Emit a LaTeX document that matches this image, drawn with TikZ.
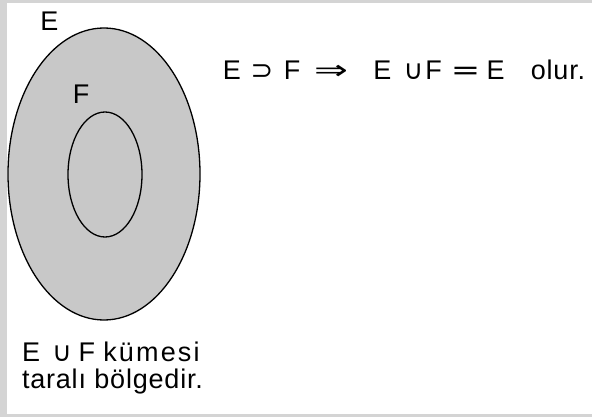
\documentclass[tikz,border=0pt]{standalone}
\usepackage{fontspec}
\usepackage{graphicx}
\setmainfont{Liberation Sans}
\newfontfamily\symf{DejaVu Sans}
\newfontfamily\capf[LetterSpace=3]{Liberation Sans}
\newfontfamily\widef[LetterSpace=8]{Liberation Sans}
\usetikzlibrary{shapes.geometric}
\definecolor{framegray}{RGB}{212,212,212}
\definecolor{shade}{RGB}{200,200,200}
\begin{document}
\begin{tikzpicture}[x=1pt,y=-1pt,
  txt/.style={font=\fontsize{27}{26.5}\selectfont, inner sep=0pt, outer sep=0pt, text=black},
  sym/.style={font=\fontsize{27}{26.5}\selectfont\symf, inner sep=0pt, outer sep=0pt, text=black},
  setline/.style={draw=black, line width=1.3pt}]
\fill[framegray] (0,0) rectangle (592,417);
\fill[white] (7,3) rectangle (592,414);
\useasboundingbox (0,0) rectangle (592,417);
% sets
\node (E) [ellipse, setline, fill=shade, minimum width=192pt, minimum height=292pt, inner sep=0pt] at (104,174) {};
\node (F) [ellipse, setline, minimum width=74pt, minimum height=125pt, inner sep=0pt] at (105,174.5) {};
% set labels
\node (lE) [txt, anchor=base] at (49.5,31) {E};
\node (lF) [txt, anchor=base] at (81,104) {F};
% statement
\node (t1) [txt, anchor=base] at (232,80) {E};
\node (t2) [sym, anchor=base] at (262,80) {⊃};
\node (t3) [txt, anchor=base] at (292,80) {F};
\node (t4) [sym, anchor=base] at (331,80) {\scalebox{1.5}[1]{⇒}};
\node (t5) [txt, anchor=base] at (382.5,80) {E};
\node (t6) [sym, anchor=base] at (413.5,80) {∪};
\node (t7) [txt, anchor=base] at (433.5,80) {F};
\node (t8) [sym, anchor=base] at (465.5,80) {\scalebox{1.3}[1]{=}};
\node (t9) [txt, anchor=base] at (495.5,80) {E};
\node (t10) [txt, anchor=base] at (558,80) {\capf olur.};
% caption
\node (cap) [txt, anchor=base west, align=left] at (22,388)
  {E\hspace{0.45em}{\symf ∪}\hspace{0.25em}F\hspace{0.3em}{\widef kümesi}\\
   {\capf taralı bölgedir.}};
\end{tikzpicture}
\end{document}
